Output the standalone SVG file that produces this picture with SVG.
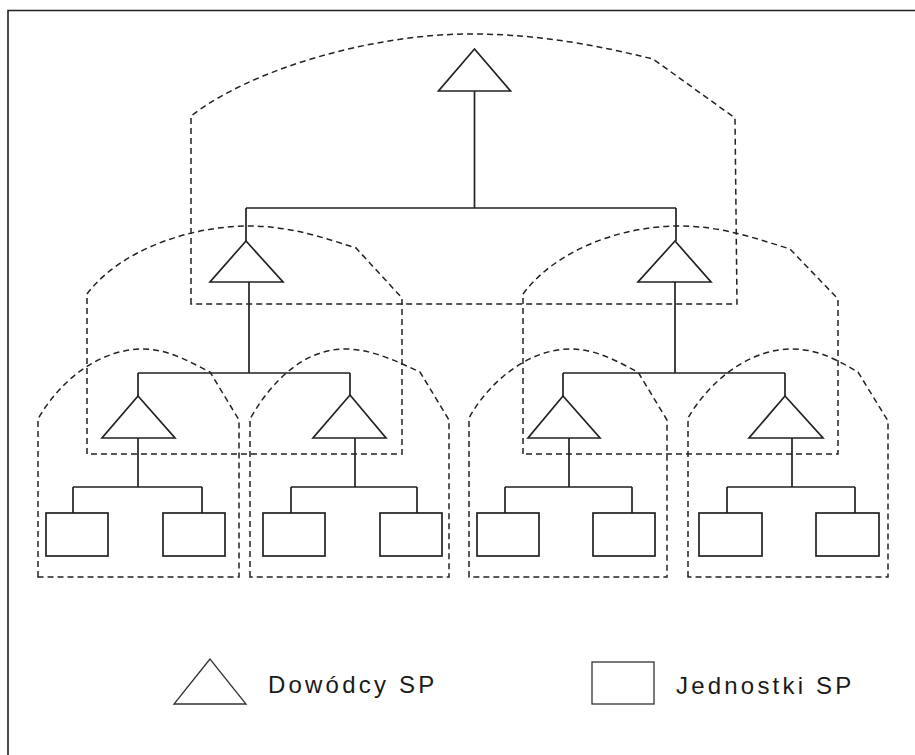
<svg xmlns="http://www.w3.org/2000/svg" width="915" height="755" viewBox="0 0 915 755">
<style>
.frame{fill:none;stroke:#222;stroke-width:1.6}
.cl{fill:none;stroke:#222;stroke-width:1.5;stroke-dasharray:6 4}
.ln{fill:none;stroke:#222;stroke-width:1.7}
.tri{fill:none;stroke:#222;stroke-width:1.7;stroke-linejoin:miter}
.box{fill:none;stroke:#222;stroke-width:1.7}
.lbl{font-family:"Liberation Sans",Arial,sans-serif;font-size:24px;letter-spacing:3.2px;fill:#1a1a1a}
</style>
<rect x="0" y="0" width="915" height="755" fill="#ffffff"/>
<path class="frame" d="M8,755 L8,10.5 L915,10.5"/>

<g id="clusters">
  <path id="cl-top" class="cl" d="M191,304 L191,116 C 250,70 370,34 471,34 C 540,34 600,46 653,59 L735,118 L737,304 Z"/>
  <path id="cl-mid-left" class="cl" d="M87,454 L87,294 C 120,250 190,226 249,226 C 290,226 325,238 356,248 L402,298 L402,454 Z"/>
  <path id="cl-mid-right" class="cl" d="M523,454 L523,294 C 556,250 620,226 680,226 C 720,226 755,238 790,249 L838,299 L838,454 Z"/>
  <path id="cl-leaf-1" class="cl" d="M38,577 L38,419 C 60,380 100,349 143,349 C 168,349 190,362 210,372 L239,420 L239,577 Z"/>
  <path id="cl-leaf-2" class="cl" d="M250,577 L250,419 C 272,380 305,349 345,349 C 372,349 398,362 420,372 L449,420 L449,577 Z"/>
  <path id="cl-leaf-3" class="cl" d="M469,577 L469,418 C 490,380 530,349 570,349 C 597,349 618,362 638,372 L667,420 L667,577 Z"/>
  <path id="cl-leaf-4" class="cl" d="M688,577 L688,418 C 710,380 750,349 792,349 C 820,349 840,362 858,372 L888,421 L888,577 Z"/>
</g>

<g id="connectors">
  <path class="ln" d="M474.5,91 L474.5,208 M246,208 L676,208 M246,208 L246,241 M676,208 L676,241"/>
  <path class="ln" d="M249,282 L249,373 M138,373 L350,373 M138,373 L138,396 M350,373 L350,395"/>
  <path class="ln" d="M675,282 L675,373 M563,373 L785,373 M563,373 L563,396 M785,373 L785,396"/>
  <path class="ln" d="M138,438 L138,487 M73,487 L202,487 M73,487 L73,513 M202,487 L202,513"/>
  <path class="ln" d="M355,438 L355,487 M291,487 L417,487 M291,487 L291,513 M417,487 L417,513"/>
  <path class="ln" d="M569,438 L569,487 M505,487 L632,487 M505,487 L505,513 M632,487 L632,513"/>
  <path class="ln" d="M792,438 L792,487 M727,487 L855,487 M727,487 L727,513 M855,487 L855,513"/>
</g>

<g id="cmd-top"><polygon class="tri" points="474.5,49 438.5,91 510.5,91"/></g>
<g id="cmd-mid-left"><polygon class="tri" points="246,241 210,282 283,282"/></g>
<g id="cmd-mid-right"><polygon class="tri" points="675,241 638,282 711,282"/></g>
<g id="cmd-leaf-1"><polygon class="tri" points="138,396 102,438 175,438"/></g>
<g id="cmd-leaf-2"><polygon class="tri" points="350,395 313,438 386,438"/></g>
<g id="cmd-leaf-3"><polygon class="tri" points="563,396 528,438 600,438"/></g>
<g id="cmd-leaf-4"><polygon class="tri" points="785,396 749,438 823,438"/></g>

<g id="unit-1a"><rect class="box" x="46" y="513" width="62" height="43"/></g>
<g id="unit-1b"><rect class="box" x="163" y="513" width="62" height="43"/></g>
<g id="unit-2a"><rect class="box" x="263" y="513" width="62" height="43"/></g>
<g id="unit-2b"><rect class="box" x="380" y="513" width="62" height="43"/></g>
<g id="unit-3a"><rect class="box" x="477" y="513" width="62" height="43"/></g>
<g id="unit-3b"><rect class="box" x="593" y="513" width="62" height="43"/></g>
<g id="unit-4a"><rect class="box" x="699" y="513" width="63" height="43"/></g>
<g id="unit-4b"><rect class="box" x="816" y="513" width="63" height="43"/></g>

<g id="legend-commanders">
  <polygon points="210,659 174,704 246,704" fill="none" stroke="#333" stroke-width="1.3"/>
  <text class="lbl" x="268" y="693">Dowódcy SP</text>
</g>
<g id="legend-units">
  <rect x="592" y="662" width="62" height="42" fill="none" stroke="#333" stroke-width="1.3"/>
  <text class="lbl" x="676" y="694">Jednostki SP</text>
</g>
</svg>
